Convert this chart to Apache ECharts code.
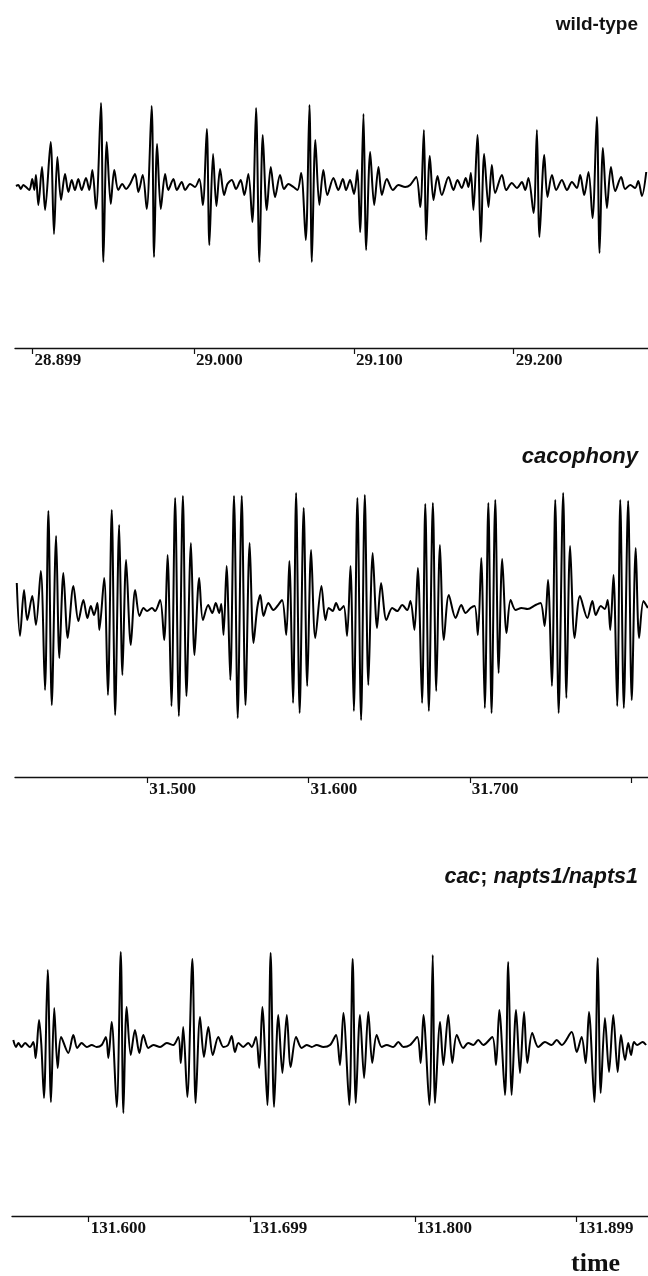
<!DOCTYPE html>
<html>
<head>
<meta charset="utf-8">
<script src="https://cdn.jsdelivr.net/npm/echarts@6/dist/echarts.min.js"></script>
<style>
  html, body { margin: 0; padding: 0; background: #fff; }
  #chart { width: 648px; height: 1276px; }
</style>
</head>
<body>
<div id="chart"></div>
<script>
// wild-type trace: sample times (s) and amplitude (arbitrary units)
const wtTime = [
  28.8886, 28.8901, 28.8916, 28.8932, 28.8949, 28.8970, 28.8988, 28.9001, 28.9011, 28.9026,
  28.9049, 28.9068, 28.9103, 28.9124, 28.9145, 28.9168, 28.9193, 28.9214, 28.9235, 28.9255,
  28.9276, 28.9297, 28.9324, 28.9345, 28.9364, 28.9387, 28.9418, 28.9433, 28.9454, 28.9479,
  28.9501, 28.9526, 28.9551, 28.9575, 28.9600, 28.9631, 28.9652, 28.9679, 28.9704, 28.9735,
  28.9750, 28.9769, 28.9792, 28.9819, 28.9839, 28.9871, 28.9892, 28.9923, 28.9944, 28.9975,
  29.0006, 29.0033, 29.0055, 29.0080, 29.0096, 29.0119, 29.0140, 29.0163, 29.0188, 29.0209,
  29.0236, 29.0263, 29.0292, 29.0315, 29.0340, 29.0365, 29.0388, 29.0409, 29.0430, 29.0455,
  29.0480, 29.0507, 29.0538, 29.0563, 29.0590, 29.0622, 29.0647, 29.0670, 29.0699, 29.0722,
  29.0737, 29.0759, 29.0784, 29.0809, 29.0834, 29.0872, 29.0903, 29.0931, 29.0951, 29.0976,
  29.1001, 29.1022, 29.1039, 29.1060, 29.1077, 29.1102, 29.1127, 29.1154, 29.1175, 29.1206,
  29.1244, 29.1279, 29.1321, 29.1352, 29.1390, 29.1415, 29.1438, 29.1452, 29.1475, 29.1498,
  29.1523, 29.1550, 29.1592, 29.1623, 29.1648, 29.1675, 29.1700, 29.1717, 29.1732, 29.1748,
  29.1773, 29.1794, 29.1815, 29.1842, 29.1863, 29.1884, 29.1926, 29.1953, 29.1988, 29.2020,
  29.2051, 29.2072, 29.2092, 29.2124, 29.2145, 29.2161, 29.2191, 29.2211, 29.2239, 29.2266,
  29.2301, 29.2333, 29.2364, 29.2395, 29.2416, 29.2441, 29.2468, 29.2493, 29.2520, 29.2537,
  29.2558, 29.2583, 29.2608, 29.2635, 29.2672, 29.2697, 29.2729, 29.2760, 29.2779, 29.2802,
  29.2829
];
const wtAmp = [
  1, 2, -2, 2, 0, -3, 8, -3, 12, -18,
  20, -23, 45, -47, 30, -13, 13, -5, 7, -3,
  8, -3, 9, -3, 17, -22, 84, -75, 45, -17,
  17, -3, 3, -2, 3, 13, -5, 12, -22, 81,
  -70, 43, -22, 13, -3, 8, -3, 5, -3, 3,
  0, 8, -18, 58, -58, 33, -19, 18, -8, 3,
  7, -2, 7, -8, 13, -35, 79, -75, 52, -23,
  20, -10, 12, -2, 3, 0, -3, 14, -53, 82,
  -75, 47, -18, 17, -8, 9, -3, 8, -3, 7,
  -7, 17, -45, 73, -63, 35, -18, 20, -8, 8,
  -3, 2, 0, 2, 10, -20, 57, -53, 31, -13,
  11, -8, 10, -3, 7, -1, 9, 0, 14, -23,
  52, -55, 33, -20, 22, -6, 12, -3, 4, -1,
  5, -3, 9, -26, 57, -50, 32, -10, 12, -3,
  7, -3, 5, -1, 12, -8, 15, -31, 70, -66,
  39, -21, 20, -4, 10, -2, 2, -1, 6, -9,
  15
];

// cacophony trace
const cacTime = [
  31.4191, 31.4211, 31.4236, 31.4256, 31.4287, 31.4310, 31.4340, 31.4366, 31.4387, 31.4408,
  31.4435, 31.4455, 31.4480, 31.4507, 31.4542, 31.4573, 31.4604, 31.4629, 31.4650, 31.4670,
  31.4691, 31.4703, 31.4733, 31.4756, 31.4780, 31.4801, 31.4826, 31.4846, 31.4869, 31.4898,
  31.4925, 31.4952, 31.4977, 31.4999, 31.5029, 31.5049, 31.5080, 31.5105, 31.5126, 31.5150,
  31.5173, 31.5196, 31.5221, 31.5243, 31.5271, 31.5293, 31.5322, 31.5345, 31.5378, 31.5403,
  31.5425, 31.5446, 31.5459, 31.5473, 31.5492, 31.5515, 31.5538, 31.5561, 31.5586, 31.5609,
  31.5635, 31.5659, 31.5682, 31.5701, 31.5721, 31.5751, 31.5782, 31.5807, 31.5836, 31.5862,
  31.5881, 31.5904, 31.5923, 31.5945, 31.5970, 31.5992, 31.6016, 31.6042, 31.6080, 31.6105,
  31.6125, 31.6150, 31.6171, 31.6193, 31.6218, 31.6239, 31.6260, 31.6281, 31.6303, 31.6326,
  31.6349, 31.6371, 31.6398, 31.6425, 31.6450, 31.6483, 31.6519, 31.6550, 31.6581, 31.6612,
  31.6632, 31.6657, 31.6678, 31.6704, 31.6724, 31.6746, 31.6771, 31.6792, 31.6815, 31.6839,
  31.6870, 31.6912, 31.6947, 31.6974, 31.7005, 31.7030, 31.7050, 31.7071, 31.7093, 31.7115,
  31.7135, 31.7158, 31.7179, 31.7201, 31.7228, 31.7253, 31.7284, 31.7321, 31.7359, 31.7408,
  31.7439, 31.7464, 31.7485, 31.7509, 31.7530, 31.7551, 31.7579, 31.7599, 31.7622, 31.7650,
  31.7683, 31.7729, 31.7760, 31.7781, 31.7812, 31.7837, 31.7855, 31.7871, 31.7891, 31.7914,
  31.7933, 31.7955, 31.7982, 31.8004, 31.8029, 31.8050, 31.8077, 31.8104
];
const cacAmp = [
  25, -28, 18, -12, 12, -17, 37, -82, 97, -97,
  72, -50, 35, -30, 22, -13, 8, -10, 2, -7,
  5, -22, 30, -87, 98, -107, 83, -67, 48, -37,
  18, -8, 0, -3, 0, -3, 8, -32, 53, -98,
  110, -108, 112, -88, 65, -47, 30, -12, 3, -5,
  5, -5, 4, -27, 42, -72, 112, -110, 112, -97,
  65, -35, 0, 13, -8, 5, -2, 2, 8, -27,
  47, -95, 115, -105, 100, -78, 58, -30, 22, -12,
  0, -3, 5, -2, 2, -28, 42, -103, 110, -112,
  113, -77, 55, -20, 25, -12, 0, -3, 3, -2,
  7, -22, 40, -95, 104, -103, 105, -83, 63, -32,
  13, -10, 3, -5, 0, 2, -27, 50, -100, 105,
  -105, 108, -65, 49, -25, 8, -2, 0, -1, 3,
  5, -18, 28, -78, 108, -105, 115, -90, 62, -30,
  12, -10, 7, -7, 2, -1, 8, -22, 33, -98,
  108, -100, 107, -92, 60, -30, 7, 0
];

// cac; napts1/napts1 trace
const napTime = [
  131.5538, 131.5555, 131.5569, 131.5589, 131.5610, 131.5640, 131.5661, 131.5675, 131.5696, 131.5710,
  131.5726, 131.5749, 131.5769, 131.5789, 131.5810, 131.5831, 131.5875, 131.5906, 131.5930, 131.5957,
  131.5988, 131.6019, 131.6049, 131.6080, 131.6106, 131.6121, 131.6141, 131.6172, 131.6197, 131.6213,
  131.6233, 131.6258, 131.6284, 131.6311, 131.6335, 131.6366, 131.6397, 131.6438, 131.6479, 131.6519,
  131.6550, 131.6565, 131.6580, 131.6605, 131.6636, 131.6656, 131.6683, 131.6707, 131.6734, 131.6761,
  131.6795, 131.6826, 131.6855, 131.6877, 131.6897, 131.6918, 131.6948, 131.6979, 131.7000, 131.7026,
  131.7046, 131.7065, 131.7096, 131.7116, 131.7137, 131.7163, 131.7188, 131.7215, 131.7239, 131.7272,
  131.7306, 131.7337, 131.7368, 131.7398, 131.7439, 131.7480, 131.7517, 131.7541, 131.7562, 131.7598,
  131.7619, 131.7638, 131.7664, 131.7689, 131.7715, 131.7739, 131.7766, 131.7797, 131.7828, 131.7868,
  131.7899, 131.7930, 131.7971, 131.8015, 131.8036, 131.8053, 131.8089, 131.8110, 131.8124, 131.8155,
  131.8175, 131.8205, 131.8230, 131.8257, 131.8297, 131.8328, 131.8359, 131.8389, 131.8420, 131.8475,
  131.8498, 131.8518, 131.8553, 131.8573, 131.8594, 131.8621, 131.8645, 131.8670, 131.8690, 131.8720,
  131.8757, 131.8798, 131.8839, 131.8870, 131.8901, 131.8962, 131.8993, 131.9023, 131.9048, 131.9068,
  131.9101, 131.9122, 131.9140, 131.9166, 131.9191, 131.9217, 131.9244, 131.9264, 131.9289, 131.9309,
  131.9326, 131.9344, 131.9364, 131.9397, 131.9418
];
const napAmp = [
  5, -2, 2, -2, 2, -2, 3, -13, 25, 0,
  -53, 75, -57, 37, -23, 8, -8, 10, -3, 2,
  -2, 0, -2, 0, 8, -13, 23, -62, 93, -68,
  38, -10, 15, -8, 10, -3, 0, -2, 2, 0,
  8, -18, 18, -52, 86, -58, 28, -12, 18, -10,
  8, -2, 0, 9, -7, 2, -2, 2, -2, 8,
  -23, 38, -60, 92, -62, 30, -28, 30, -22, 8,
  -3, 0, -2, 0, -2, 0, 10, -20, 32, -60,
  86, -58, 30, -33, 33, -18, 10, -2, 0, -2,
  3, -2, 0, 8, -18, 30, -60, 90, -58, 23,
  -20, 30, -18, 10, -3, 2, 0, 5, 0, 8,
  -20, 35, -50, 83, -50, 35, -28, 33, -18, 12,
  -2, 3, 0, 5, 0, 13, -7, 8, -18, 33,
  -57, 87, -48, 27, -27, 30, -27, 10, -15, 2,
  -10, 3, 0, 3, 0
];

// axis ticks and labels
const wtTicks = [28.899, 29.000, 29.100, 29.200];
const cacTicks = [31.500, 31.600, 31.700, 31.800];
const cacLabels = [31.500, 31.600, 31.700];
const napTicks = [131.600, 131.699, 131.800, 131.899];

const titles = ['wild-type', 'cacophony', 'time'];

function toPairs(t, a) {
  return t.map((v, i) => [v, a[i]]);
}

const chart = echarts.init(document.getElementById('chart'), null, { renderer: 'canvas' });

const labelFont = {
  fontFamily: 'Liberation Serif',
  fontWeight: 'bold',
  fontSize: 17,
  color: '#111'
};

function xAxisFor(gridIndex, min, max, ticks, labels) {
  return {
    type: 'value',
    gridIndex: gridIndex,
    min: min,
    max: max,
    axisLine: { show: true, onZero: false, lineStyle: { color: '#111', width: 1.3 } },
    axisTick: { show: true, length: 6, customValues: ticks, lineStyle: { color: '#111', width: 1.2 } },
    axisLabel: Object.assign({
      customValues: labels,
      align: 'left',
      margin: 4,
      padding: [0, 0, 0, 2],
      formatter: v => v.toFixed(3)
    }, labelFont),
    splitLine: { show: false }
  };
}

function yAxisFor(gridIndex, min, max) {
  return {
    type: 'value',
    gridIndex: gridIndex,
    min: min,
    max: max,
    show: false,
    splitLine: { show: false }
  };
}

function traceSeries(idx, data) {
  return {
    type: 'line',
    xAxisIndex: idx,
    yAxisIndex: idx,
    data: data,
    showSymbol: false,
    smooth: 0.3,
    lineStyle: { color: '#000', width: 2 },
    silent: true
  };
}

chart.setOption({
  animation: false,
  backgroundColor: '#fff',
  title: [
    {
      text: titles[0],
      right: 5, top: 10,
      textStyle: { fontFamily: 'Liberation Sans', fontWeight: 'bold', fontSize: 19, color: '#111' }
    },
    {
      text: titles[1],
      right: 5, top: 441,
      textStyle: { fontFamily: 'Liberation Sans', fontWeight: 'bold', fontStyle: 'italic', fontSize: 22, color: '#111' }
    },
    {
      text: '{i|cac}{n|; }{i|napts1/napts1}',
      right: 5, top: 861,
      textStyle: {
        rich: {
          i: { fontFamily: 'Liberation Sans', fontWeight: 'bold', fontStyle: 'italic', fontSize: 21.5, color: '#111' },
          n: { fontFamily: 'Liberation Sans', fontWeight: 'bold', fontSize: 21.5, color: '#111' }
        }
      }
    },
    {
      text: titles[2],
      left: 566, top: 1246,
      textStyle: { fontFamily: 'Liberation Serif', fontWeight: 'bold', fontSize: 26, color: '#111' }
    }
  ],
  grid: [
    { left: 15, right: 0, top: 90, height: 258 },
    { left: 15, right: 0, top: 455, height: 322 },
    { left: 12, right: 0, top: 930, height: 286 }
  ],
  xAxis: [
    xAxisFor(0, 28.888, 29.284, wtTicks, wtTicks),
    xAxisFor(1, 31.418, 31.8105, cacTicks, cacLabels),
    xAxisFor(2, 131.553, 131.943, napTicks, napTicks)
  ],
  yAxis: [
    yAxisFor(0, -161, 97),
    yAxisFor(1, -169, 153),
    yAxisFor(2, -171, 115)
  ],
  series: [
    traceSeries(0, toPairs(wtTime, wtAmp)),
    traceSeries(1, toPairs(cacTime, cacAmp)),
    traceSeries(2, toPairs(napTime, napAmp))
  ]
});

window.addEventListener('resize', () => chart.resize());
</script>
</body>
</html>
